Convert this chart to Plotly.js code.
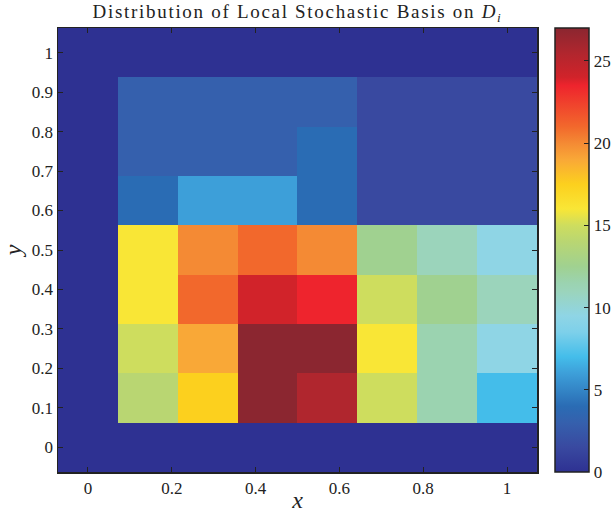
<!DOCTYPE html>
<html>
<head>
<meta charset="utf-8">
<script src="https://cdn.plot.ly/plotly-3.0.1.min.js"></script>
<style>
html,body{margin:0;padding:0;background:#fff;}
#chart{width:615px;height:513px;}
#chart .gtitle{letter-spacing:1.7px;}
</style>
</head>
<body>
<div id="chart"></div>
<script>
// grid centres
var xCenters = [0, 0.1429, 0.2857, 0.4286, 0.5714, 0.7143, 0.8571, 1];
var yCenters = [0, 0.125, 0.25, 0.375, 0.5, 0.625, 0.75, 0.875, 1];

// values per row (bottom row y=0 first)
var row0 = [0, 0, 0, 0, 0, 0, 0, 0];
var row1 = [0, 14, 17.5, 27, 25.5, 15, 11.5, 7];
var row2 = [0, 15, 19, 27, 27, 16, 11.5, 9.5];
var row3 = [0, 16, 21, 24, 23.5, 15, 12.5, 11];
var row4 = [0, 16, 20, 21, 20, 12.5, 11, 9.5];
var row5 = [0, 4, 6, 6, 4, 1.5, 1.5, 1.5];
var row6 = [0, 3, 3, 3, 4, 1.5, 1.5, 1.5];
var row7 = [0, 3, 3, 3, 3, 1.5, 1.5, 1.5];
var row8 = [0, 0, 0, 0, 0, 0, 0, 0];

var xTicks = [0, 0.2, 0.4, 0.6, 0.8, 1];
var xTickLabels = ['0', '0.2', '0.4', '0.6', '0.8', '1'];
var yTicks = [0, 0.1, 0.2, 0.3, 0.4, 0.5, 0.6, 0.7, 0.8, 0.9, 1];
var yTickLabels = ['0', '0.1', '0.2', '0.3', '0.4', '0.5', '0.6', '0.7', '0.8', '0.9', '1'];
var cbTicks = [0, 5, 10, 15, 20, 25];

var zMax = 27;
var scaleValues = [0, 1.5, 3, 4, 6, 7, 8.5, 9.5, 11, 11.5, 12.5, 14, 15, 16, 17.5, 19, 20, 21, 23.5, 24, 25.5, 27];
var scaleColors = ['#2e3192', '#3949a0', '#3560ad', '#2a6cb4', '#3d9fd9', '#44bdea', '#7dd0ea', '#8fd5e5',
  '#9bd4bb', '#9bd3b0', '#a0d190', '#b9d672', '#cedd5e', '#f9e636', '#fcd01e', '#f9a837', '#f48a34',
  '#f2682c', '#ee242d', '#d1232a', '#b0262e', '#8b2630'];
var colorscale = scaleValues.map(function (v, i) { return [v / zMax, scaleColors[i]]; });

var z = [row0, row1, row2, row3, row4, row5, row6, row7, row8];

var serif = 'Liberation Serif, Times New Roman, serif';
var ink = '#222222';

var trace = {
  type: 'heatmap',
  x: xCenters,
  y: yCenters,
  z: z,
  zmin: 0,
  zmax: zMax,
  colorscale: colorscale,
  hoverinfo: 'x+y+z',
  colorbar: {
    x: 1.0376, xanchor: 'left', xpad: 0,
    y: 0.5, yanchor: 'middle', len: 1, lenmode: 'fraction', ypad: 0,
    thickness: 34,
    outlinecolor: ink, outlinewidth: 1.5,
    tickmode: 'array', tickvals: cbTicks,
    ticks: 'inside', ticklen: 5, tickcolor: ink,
    tickfont: {family: serif, size: 17, color: ink}
  }
};

var layout = {
  width: 615, height: 513,
  margin: {l: 58, r: 78, t: 28, b: 41, autoexpand: false},
  paper_bgcolor: '#ffffff',
  plot_bgcolor: '#ffffff',
  title: {
    text: 'Distribution of Local Stochastic Basis on <i>D</i><sub><i>i</i></sub>',
    font: {family: serif, size: 19, color: ink},
    x: 0.5, xanchor: 'center', xref: 'paper', y: 0.99, yanchor: 'top'
  },
  xaxis: {
    range: [-0.0714, 1.0714],
    tickmode: 'array', tickvals: xTicks, ticktext: xTickLabels,
    ticks: 'inside', ticklen: 5, tickcolor: ink, tickwidth: 1,
    showline: true, linecolor: ink, linewidth: 1.5, mirror: 'ticks',
    showgrid: false, zeroline: false,
    tickfont: {family: serif, size: 17, color: ink},
    title: {text: '<i>x</i>', font: {family: serif, size: 24, color: ink}, standoff: 2}
  },
  yaxis: {
    range: [-0.0625, 1.0625],
    tickmode: 'array', tickvals: yTicks, ticktext: yTickLabels,
    ticks: 'inside', ticklen: 5, tickcolor: ink, tickwidth: 1,
    showline: true, linecolor: ink, linewidth: 1.5, mirror: 'ticks',
    showgrid: false, zeroline: false,
    tickfont: {family: serif, size: 17, color: ink},
    title: {text: '<i>y</i>', font: {family: serif, size: 24, color: ink}, standoff: 4}
  },
  font: {family: serif, color: ink}
};

Plotly.newPlot('chart', [trace], layout, {displayModeBar: false, staticPlot: true});
</script>
</body>
</html>
